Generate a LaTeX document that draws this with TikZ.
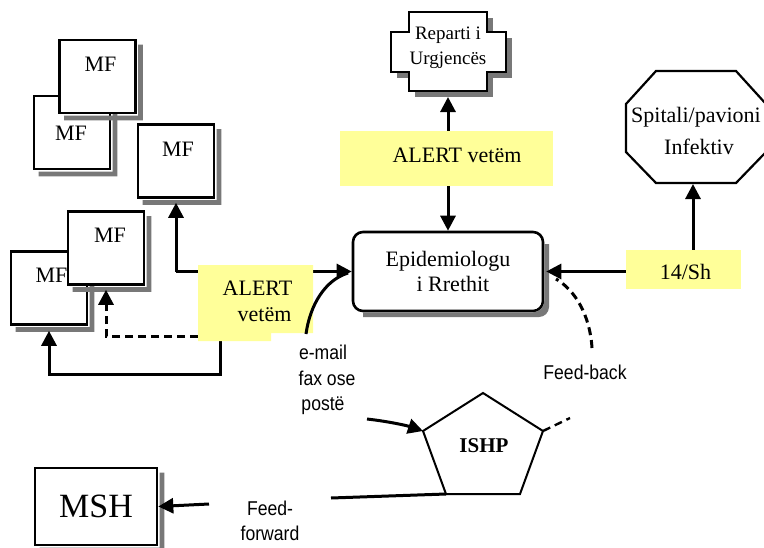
\documentclass[tikz,border=0pt]{standalone}
\usepackage{fontspec}
\setmainfont{Liberation Serif}
\newfontfamily\sansf[FakeStretch=0.88]{Liberation Sans}
\usetikzlibrary{arrows.meta,calc}
\definecolor{alertyellow}{RGB}{255,255,153}
\definecolor{shadowgray}{RGB}{120,120,120}
\newcommand\dropsh[1]{%
  \fill[shadowgray]
    ($(#1.north east)+(1.3,6)$) -- ($(#1.north east)+(6,6)$) --
    ($(#1.south east)+(6,6)$) -- ($(#1.south west)+(6,6)$) --
    ($(#1.south west)+(6,1.3)$) -- ($(#1.south east)+(1.3,1.3)$) -- cycle;}
\begin{document}
\begin{tikzpicture}[x=1pt,y=-1pt,
 mfbox/.style={draw,line width=2.6pt,fill=white,minimum width=76pt,minimum height=73pt,inner sep=0pt},
 serif22/.style={font=\fontsize{22}{26}\selectfont,inner sep=0pt},
 sanslbl/.style={font=\sansf\fontsize{20}{25.5}\selectfont,inner sep=0pt,align=center},
 arr/.style={line width=3pt,-{Triangle[length=15pt,width=15pt]}},
 conn/.style={line width=3pt},
 dsh/.style={dash pattern=on 8pt off 5pt},
 yel/.style={fill=alertyellow,draw=none,inner sep=0pt}
]
\useasboundingbox (0,0) rectangle (764,547);
\clip (0,0) rectangle (764,547);

% MF boxes with shadows
\node[mfbox] (mf2) at (72,132.5) {};
\dropsh{mf2}
\node[serif22] (mf2t) at (71,133) {MF};
\node[mfbox] (mf1) at (97.5,76.5) {};
\dropsh{mf1}
\node[serif22] (mf1t) at (100.5,64) {MF};
\node[mfbox] (mf3) at (176,161) {};
\dropsh{mf3}
\node[serif22] (mf3t) at (178,149) {MF};
\node[mfbox] (mf4) at (49,288) {};
\dropsh{mf4}
\node[serif22] (mf4t) at (51.5,275) {MF};
\node[mfbox] (mf5) at (106,248) {};
\dropsh{mf5}
\node[serif22] (mf5t) at (110,235) {MF};

% Epidemiologu
\node[draw,line width=2.6pt,rounded corners=10pt,fill=white,minimum width=190pt,minimum height=79pt,align=center,font=\fontsize{22}{25}\selectfont] (epi) at (448,271.5) {Epidemiologu\\ \hspace*{10pt}i Rrethit};
\fill[shadowgray] (544.3,244) -- (549,244) -- (549,307) .. controls (549,312.5) and (544.5,317) .. (539,317) -- (363,317) -- (363,312.3) -- (533,312.3) .. controls (539.2,312.3) and (544.3,307.2) .. (544.3,301) -- cycle;

% MSH
\node[draw,line width=2.6pt,fill=white,minimum width=122pt,minimum height=77pt,font=\fontsize{34}{40}\selectfont] (msh) at (96,506.5) {MSH};
\dropsh{msh}

% Reparti i Urgjencës
\draw[line width=2.6pt,fill=white] (409,12) -- (487,12) -- (487,32) -- (506,32) -- (506,72) -- (487,72) -- (487,91) -- (409,91) -- (409,72) -- (391,72) -- (391,32) -- (409,32) -- cycle;
\fill[shadowgray] (488.3,17.5) rectangle (493,30.7);
\fill[shadowgray] (507.3,37.5) rectangle (512,78);
\fill[shadowgray] (488.3,73.3) rectangle (512,78);
\fill[shadowgray] (488.3,73.3) rectangle (493,97);
\fill[shadowgray] (414.5,92.3) rectangle (493,97);
\fill[shadowgray] (396.5,73.3) rectangle (407.7,78);
\node[align=center,inner sep=0pt,font=\fontsize{19}{25}\selectfont] (rep) at (448,48) {Reparti i\\Urgjencës};
\coordinate (repS) at (448,97);

% Spitali octagon
\draw[line width=2.2pt,fill=white] (656,71) -- (736,71) -- (766,104) -- (766,152) -- (736,183) -- (656,183) -- (626,152) -- (626,104) -- cycle;
\node[align=center,inner sep=0pt,font=\fontsize{22}{32}\selectfont] (spit) at (696,131) {Spitali/pavioni\\\hspace*{6pt}Infektiv};
\coordinate (octS) at (693,184);

% ISHP pentagon
\coordinate (p1) at (483,393);
\coordinate (p2) at (543,431);
\coordinate (p3) at (520,494);
\coordinate (p4) at (446,494);
\coordinate (p5) at (423,431);
\draw[line width=2pt,line join=miter] (p1) -- (p2) -- (p3) -- (p4) -- (p5) -- cycle;
\node[inner sep=0pt,font=\bfseries\fontsize{21}{24}\selectfont] (ishp) at (484,446) {ISHP};

% connectors (under yellow boxes)
\coordinate (j1) at (176,271.5);
\draw[arr] (j1) -- (epi.west);
\draw[arr] (j1) -- ($(mf3.south)+(0,4)$);
\coordinate (aLb) at (220,341);
\coordinate (b1) at (220,374);
\coordinate (b2) at (49,374);
\draw[arr] (aLb) -- (b1) -- (b2) -- ($(mf4.south)+(0,5)$);
\coordinate (aLw) at (198,336);
\coordinate (d1) at (106,336);
\draw[arr,dsh] (aLw) -- (d1) -- ($(mf5.south)+(0,4)$);

% yellow boxes
\node[yel,minimum width=213pt,minimum height=55pt] (alertT) at (446.5,158.5) {};
\node[serif22] (alertTt) at (457,155) {ALERT vetëm};
\node[yel,minimum width=115pt,minimum height=39pt] (sh) at (683.5,269.5) {};
\node[serif22] (sht) at (685.5,272) {14/Sh};
\fill[alertyellow] (198,265) -- (313,265) -- (313,333) -- (271,333) -- (271,341) -- (198,341) -- cycle;
\node[serif22] (alertL1) at (257.5,288) {ALERT};
\node[serif22] (alertL2) at (264.5,315) {vetëm};

% connectors from yellow boxes
\draw[arr] (alertT.north -| epi.north) -- (repS);
\draw[arr] (alertT.south -| epi.north) -- (epi.north);
\draw[arr] (sh.north -| octS) -- (octS);
\draw[arr] (sh.west |- epi.east) -- ($(epi.east)+(2,0)$);

% feed-back
\coordinate (fb1) at (592,348);
\coordinate (fb2) at (556,279);
\draw[conn,dsh] (fb1) .. controls (590,315) and (575,290) .. (fb2);
\coordinate (fb3) at (570,418);
\draw[line width=2.4pt,dsh] (p2) -- (fb3);

% e-mail
\coordinate (em1) at (306,334);
\coordinate (em2) at (348,273);
\draw[conn] (em1) .. controls (310,305) and (325,280) .. (em2);
\coordinate (em3) at (367,419);
\draw[arr] (em3) .. controls (385,421) and (405,425) .. (p5);

% feed-forward
\coordinate (ff1) at (331,498);
\coordinate (ff2) at (209,504);
\draw[conn] (p4) -- (ff1);
\draw[arr] (ff2) -- (msh.east);

% sans labels
\node[sanslbl] (email) at (323,380) {e-mail\\\hspace*{8pt}fax ose\\postë};
\node[sanslbl] (fb) at (585,372) {Feed-back};
\node[sanslbl] (ff) at (270,521) {Feed-\\forward};
\end{tikzpicture}
\end{document}
